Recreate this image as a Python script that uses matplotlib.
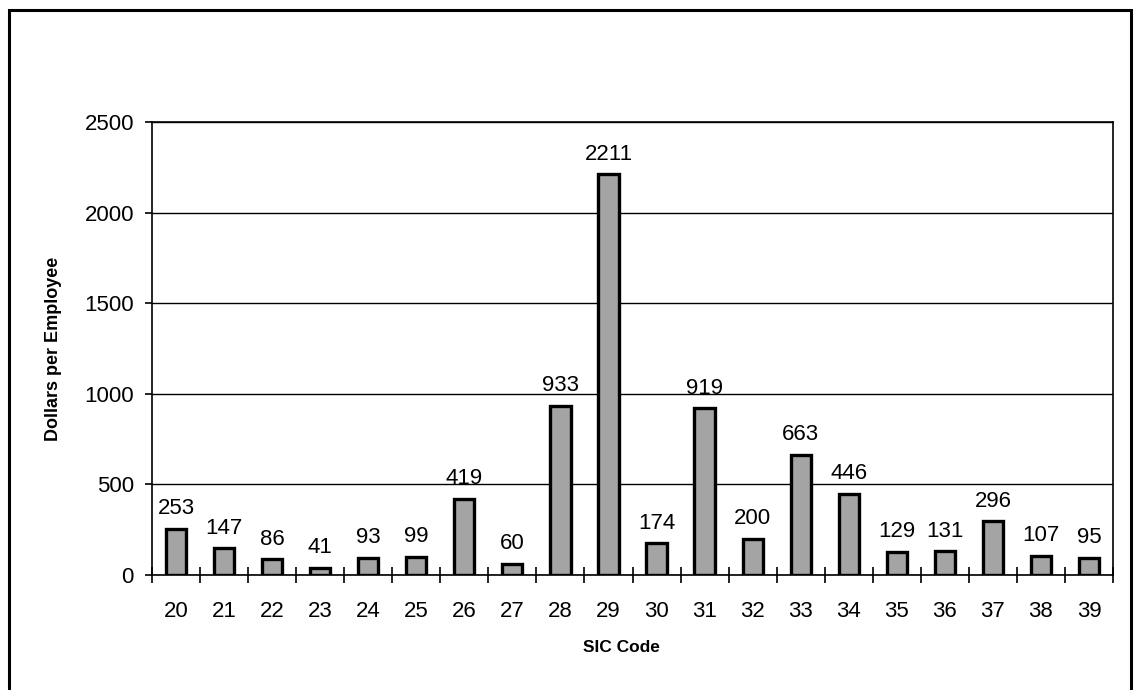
import matplotlib
matplotlib.use("Agg")
from matplotlib import pyplot as plt
from matplotlib.patches import Rectangle
from matplotlib.ticker import FixedLocator
import numpy as np

sic_codes = ['20', '21', '22', '23', '24', '25', '26', '27', '28', '29',
             '30', '31', '32', '33', '34', '35', '36', '37', '38', '39']
dollars = [253, 147, 86, 41, 93, 99, 419, 60, 933, 2211,
           174, 919, 200, 663, 446, 129, 131, 296, 107, 95]
y_ticks = [0, 500, 1000, 1500, 2000, 2500]

plt.rcParams['font.family'] = ['Liberation Sans', 'DejaVu Sans']

fig = plt.figure(figsize=(11.34, 6.90), dpi=100)
ax = fig.add_axes([152 / 1134, 1 - 575 / 690, (1113 - 152) / 1134, (575 - 122) / 690])

x = np.arange(len(sic_codes))
bars = ax.bar(x, dollars, width=0.42, color='#a4a4a4', edgecolor='black',
              linewidth=2.4, zorder=3)

for xi, v in zip(x, dollars):
    ax.annotate(f"{v}", (xi, v), xytext=(0, 7), textcoords='offset points',
                ha='center', va='bottom', fontsize=16)

ax.set_xlim(-0.5, len(sic_codes) - 0.5)
ax.set_ylim(0, 2500)
ax.set_yticks(y_ticks)
ax.set_yticklabels([str(t) for t in y_ticks])
ax.set_xticks(x)
ax.set_xticklabels(sic_codes)
ax.xaxis.set_minor_locator(FixedLocator(np.arange(-0.5, len(sic_codes), 1.0)))

ax.grid(axis='y', color='black', linewidth=1.0, zorder=0)
ax.tick_params(axis='x', which='major', length=0, pad=19, labelsize=16)
ax.tick_params(axis='x', which='minor', direction='inout', length=11, width=1.2)
ax.tick_params(axis='y', which='major', direction='out', length=5, width=1.2,
               pad=8, labelsize=16)

for sp in ax.spines.values():
    sp.set_linewidth(1.2)
    sp.set_color('black')

fig.text(621 / 1134, 1 - 647 / 690, 'SIC Code', ha='center', va='center',
         fontsize=12.5, fontweight='bold')
fig.text(54 / 1134, 1 - 349 / 690, 'Dollars per Employee', ha='center',
         va='center', rotation=90, fontsize=13, fontweight='bold')

# outer frame round the whole chart
fig.patches.append(Rectangle((9 / 1134, -0.02), (1131 - 9) / 1134, 1 - 10 / 690 + 0.02,
                             transform=fig.transFigure, fill=False,
                             edgecolor='black', linewidth=2.2))

plt.savefig('out.png', dpi=100)
plt.close()
